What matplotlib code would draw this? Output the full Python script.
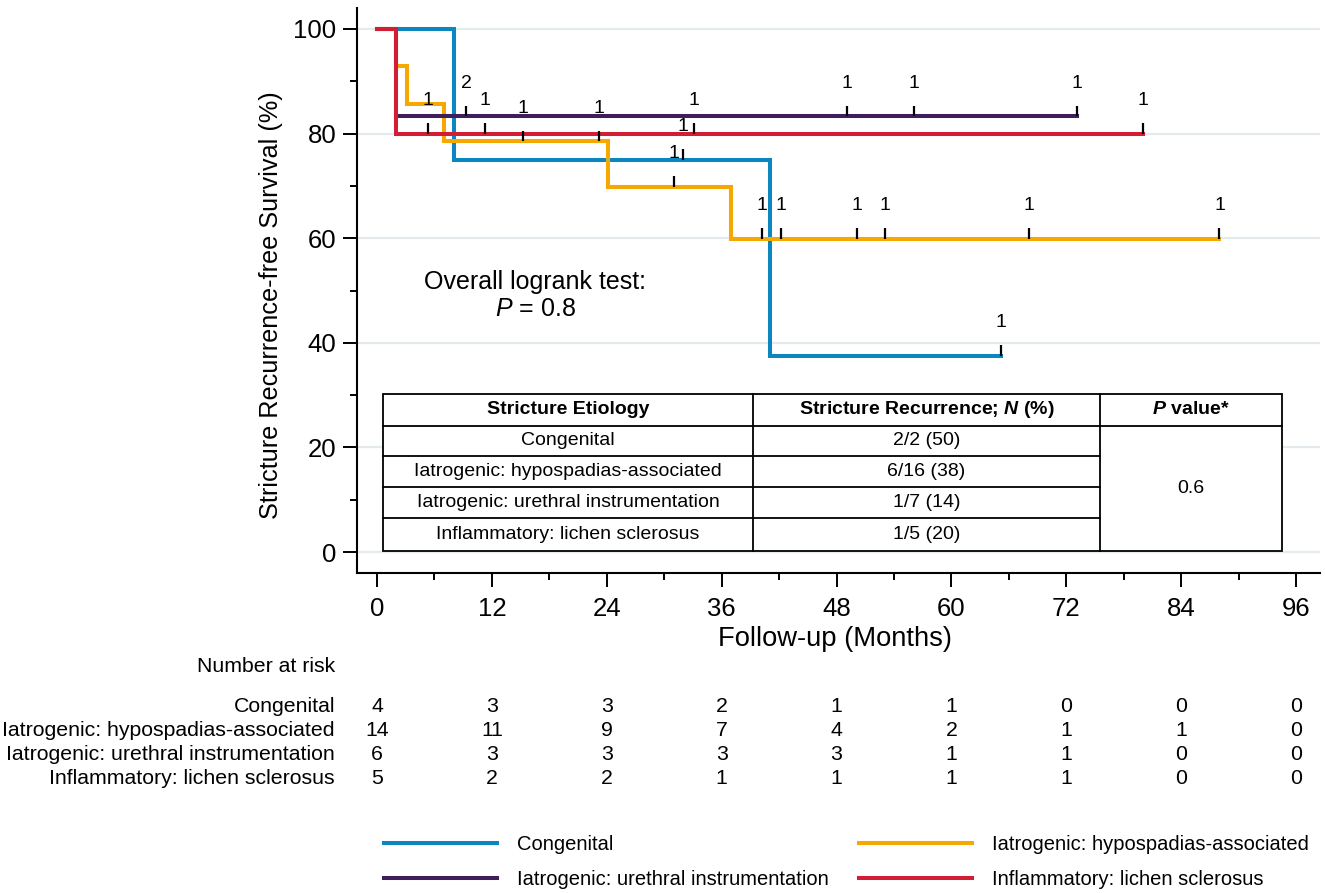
import numpy as np
import matplotlib.pyplot as plt
from matplotlib.lines import Line2D
import matplotlib.transforms as mtransforms

plt.rcParams['font.family'] = ['Liberation Sans', 'DejaVu Sans']
plt.rcParams['mathtext.fontset'] = 'custom'
plt.rcParams['mathtext.rm'] = 'Liberation Sans'
plt.rcParams['mathtext.it'] = 'Liberation Sans:italic'
plt.rcParams['mathtext.bf'] = 'Liberation Sans:bold'
plt.rcParams['mathtext.bfit'] = 'Liberation Sans:italic:bold'

groups = ['Congenital', 'Iatrogenic: hypospadias-associated',
          'Iatrogenic: urethral instrumentation', 'Inflammatory: lichen sclerosus']
colors = ['#0b86c1', '#f6a800', '#3e1f5c', '#d11e34']

# Kaplan-Meier steps (months, survival % after the step)
cong_t = [0, 8.0, 41.0, 65.2]
cong_s = [100, 75.0, 37.5, 37.5]
hypo_t = [0, 2.0, 3.1, 7.0, 24.1, 37.0, 88.0]
hypo_s = [100, 92.86, 85.71, 78.57, 69.84, 59.86, 59.86]
ureth_t = [0, 2.0, 73.1]
ureth_s = [100, 83.33, 83.33]
lichen_t = [0, 2.0, 80.0]
lichen_s = [100, 80.0, 80.0]

# censored times and counts
cong_cens = [32.0, 65.2]
cong_cn = [1, 1]
hypo_cens = [15.2, 23.2, 31.0, 40.2, 42.2, 50.1, 53.1, 68.1, 88.0]
hypo_cn = [1, 1, 1, 1, 1, 1, 1, 1, 1]
ureth_cens = [9.3, 49.1, 56.1, 73.1]
ureth_cn = [2, 1, 1, 1]
lichen_cens = [5.3, 11.3, 33.1, 80.0]
lichen_cn = [1, 1, 1, 1]

# number at risk
risk_times = [0, 12, 24, 36, 48, 60, 72, 84, 96]
cong_risk = [4, 3, 3, 2, 1, 1, 0, 0, 0]
hypo_risk = [14, 11, 9, 7, 4, 2, 1, 1, 0]
ureth_risk = [6, 3, 3, 3, 3, 1, 1, 0, 0]
lichen_risk = [5, 2, 2, 1, 1, 1, 1, 0, 0]

# inset table
tab_recur = ['2/2 (50)', '6/16 (38)', '1/7 (14)', '1/5 (20)']
tab_p = '0.6'
logrank_p = '0.8'

curves = [(cong_t, cong_s, cong_cens, cong_cn),
          (hypo_t, hypo_s, hypo_cens, hypo_cn),
          (ureth_t, ureth_s, ureth_cens, ureth_cn),
          (lichen_t, lichen_s, lichen_cens, lichen_cn)]
risks = [cong_risk, hypo_risk, ureth_risk, lichen_risk]

W, H = 1325, 893
fig = plt.figure(figsize=(W / 100, H / 100), dpi=100)
ax = fig.add_axes([357 / W, 1 - 573 / H, 963 / W, 565 / H])

draw_order = [2, 1, 0, 3]
for i in draw_order:
    t, s, ct, cn = curves[i]
    ax.step(t, s, where='post', color=colors[i], lw=2.9, zorder=3 + i * 0.1,
            solid_joinstyle='miter')
for i in draw_order:
    t, s, ct, cn = curves[i]
    idx = np.searchsorted(t, ct, side='right') - 1
    sv = np.array(s)[idx]
    ax.vlines(ct, sv, sv + 2.0, color='black', lw=1.6, zorder=5)
    for x, y, n in zip(ct, sv, cn):
        ax.text(x, y + 6.3, str(n), ha='center', va='center', fontsize=14, zorder=6)

ax.set_xlim(-2.09, 98.5)
ax.set_ylim(-4.0, 104.0)
ax.set_xticks(risk_times)
ax.set_xticks(np.arange(6, 96, 12), minor=True)
ax.set_yticks([0, 20, 40, 60, 80, 100])
ax.set_yticks([10, 30, 50, 70, 90], minor=True)
ax.tick_params(which='major', direction='out', length=10, width=1.4, labelsize=18.5)
ax.tick_params(which='minor', direction='out', length=5, width=1.4)
ax.tick_params(axis='y', pad=5)
ax.tick_params(axis='x', pad=7)
for sp in ['top', 'right']:
    ax.spines[sp].set_visible(False)
for sp in ['left', 'bottom']:
    ax.spines[sp].set_linewidth(1.5)
ax.yaxis.grid(True, which='major', color='#e4ebee', lw=1.6, zorder=0)
ax.set_axisbelow(True)

ax.set_xlabel('Follow-up (Months)', fontsize=19.7)
ax.xaxis.set_label_coords(0.496, -0.093)
ax.set_ylabel('Stricture Recurrence-free Survival (%)', fontsize=18.2)
ax.yaxis.set_label_coords(-0.0765, 0.474)

ax.text(0.185, 0.515, 'Overall logrank test:', transform=ax.transAxes,
        ha='center', va='center', fontsize=18)
ax.text(0.185, 0.467, r'$\mathit{P}$ = ' + logrank_p, transform=ax.transAxes,
        ha='center', va='center', fontsize=18)

# inset table
tx = [0.0267, 0.4115, 0.7715, 0.9605]
ty = [0.3168, 0.2607, 0.2071, 0.1527, 0.0968, 0.0395]
ax.add_patch(plt.Rectangle((tx[0], ty[-1]), tx[-1] - tx[0], ty[0] - ty[-1],
                           transform=ax.transAxes, facecolor='white',
                           edgecolor='black', lw=1.3, zorder=7))
lk = dict(transform=ax.transAxes, color='black', lw=1.3, zorder=8)
ax.plot([tx[0], tx[3]], [ty[1], ty[1]], **lk)
for yy in ty[2:5]:
    ax.plot([tx[0], tx[2]], [yy, yy], **lk)
for xx in tx[1:3]:
    ax.plot([xx, xx], [ty[0], ty[-1]], **lk)
tk = dict(transform=ax.transAxes, ha='center', va='center', fontsize=14, zorder=9)
hy = (ty[0] + ty[1]) / 2
ax.text((tx[0] + tx[1]) / 2, hy, 'Stricture Etiology', fontweight='bold', **tk)
ax.text((tx[1] + tx[2]) / 2, hy, r'Stricture Recurrence; $\mathbfit{N}$ (%)',
        fontweight='bold', **tk)
ax.text((tx[2] + tx[3]) / 2, hy, r'$\mathbfit{P}$ value*', fontweight='bold', **tk)
for r in range(4):
    cy = (ty[r + 1] + ty[r + 2]) / 2
    ax.text((tx[0] + tx[1]) / 2, cy, groups[r], **tk)
    ax.text((tx[1] + tx[2]) / 2, cy, tab_recur[r], **tk)
ax.text((tx[2] + tx[3]) / 2, (ty[1] + ty[-1]) / 2, tab_p, **tk)

# number at risk
trans = mtransforms.blended_transform_factory(ax.transData, fig.transFigure)
fig.text(335 / W, 1 - 667 / H, 'Number at risk', ha='right', va='center', fontsize=15.3)
row_y = [707, 731, 755, 779]
for r in range(4):
    fy = 1 - row_y[r] / H
    fig.text(335 / W, fy, groups[r], ha='right', va='center', fontsize=15.3)
    for x, n in zip(risk_times, risks[r]):
        ax.text(x, fy, str(n), transform=trans, ha='center', va='center',
                fontsize=15.3, clip_on=False)

# legend
handles = [Line2D([], [], color=colors[i], lw=2.9) for i in [0, 2, 1, 3]]
labels = [groups[i] for i in [0, 2, 1, 3]]
fig.legend(handles, labels, ncol=2, loc='upper left',
           bbox_to_anchor=(370 / W, 1 - 821 / H), frameon=False, fontsize=14.5,
           handlelength=5.6, handletextpad=1.0, columnspacing=1.5,
           labelspacing=0.8, borderpad=0.2)

fig.savefig('out.png', dpi=100)
